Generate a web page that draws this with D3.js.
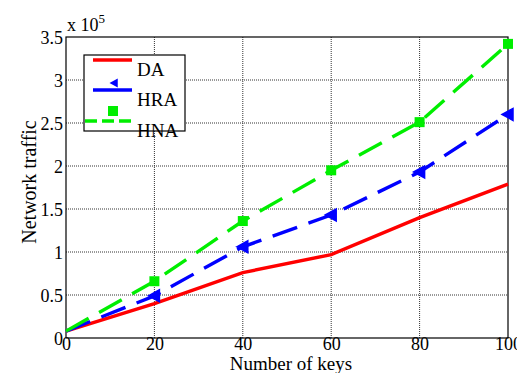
<!DOCTYPE html>
<html>
<head>
<meta charset="utf-8">
<script src="https://cdn.jsdelivr.net/npm/d3@7"></script>
<style>
  body { margin: 0; background: #fff; }
  text { font-family: "Liberation Serif", "Times New Roman", serif; fill: #000; }
</style>
</head>
<body>
<div id="chart-area"></div>
<script>
// Data (network traffic in units of 1e5)
const keys = [0, 20, 40, 60, 80, 100]
const da  = [0.08, 0.40, 0.76, 0.97, 1.40, 1.79]
const hra = [0.08, 0.49, 1.06, 1.43, 1.93, 2.60]
const hna = [0.08, 0.66, 1.36, 1.95, 2.51, 3.42]
const xTicks = [0, 20, 40, 60, 80, 100]
const yTicks = [0, 0.5, 1, 1.5, 2, 2.5, 3, 3.5]

const W = 517, H = 373
const MARGIN = { LEFT: 66, RIGHT: 9, TOP: 37, BOTTOM: 35 }
const WIDTH = W - MARGIN.LEFT - MARGIN.RIGHT
const HEIGHT = H - MARGIN.TOP - MARGIN.BOTTOM

const svg = d3.select('#chart-area').append('svg')
  .attr('width', W)
  .attr('height', H)

const g = svg.append('g')
  .attr('transform', `translate(${MARGIN.LEFT}, ${MARGIN.TOP})`)

const x = d3.scaleLinear().domain([0, 100]).range([0, WIDTH])
const y = d3.scaleLinear().domain([0, 3.5]).range([HEIGHT, 0])

// grid
g.append('g').selectAll('line').data(xTicks.slice(1, -1)).enter().append('line')
  .attr('x1', d => x(d)).attr('x2', d => x(d))
  .attr('y1', 0).attr('y2', HEIGHT)
  .attr('stroke', '#333').attr('stroke-width', 1).attr('stroke-dasharray', '1,1')
g.append('g').selectAll('line').data(yTicks.slice(1, -1)).enter().append('line')
  .attr('x1', 0).attr('x2', WIDTH)
  .attr('y1', d => y(d)).attr('y2', d => y(d))
  .attr('stroke', '#333').attr('stroke-width', 1).attr('stroke-dasharray', '1,1')

// axes
const xAxis = g.append('g')
  .attr('transform', `translate(0, ${HEIGHT})`)
  .call(d3.axisBottom(x).tickValues(xTicks).tickSize(0).tickPadding(0))
const yAxis = g.append('g')
  .call(d3.axisLeft(y).tickValues(yTicks).tickSize(0).tickPadding(3).tickFormat(d3.format('')))
;[xAxis, yAxis].forEach(a => {
  a.select('.domain').remove()
  a.selectAll('text').attr('font-size', '18px').attr('font-family', null)
  a.attr('font-family', null)
})
yAxis.selectAll('text').attr('dy', '0.35em')
xAxis.selectAll('text').attr('dy', '0.66em')

// frame
g.append('rect')
  .attr('width', WIDTH).attr('height', HEIGHT)
  .attr('fill', 'none').attr('stroke', '#000').attr('stroke-width', 1.2)

// series
const series = [
  { name: 'DA', values: da, color: '#ff0000', dash: null, marker: null },
  { name: 'HRA', values: hra, color: '#0000ff', dash: '26,12', marker: 'tri' },
  { name: 'HNA', values: hna, color: '#00ee00', dash: '26,12', marker: 'square' }
]

const line = d3.line().x((d, i) => x(keys[i])).y(d => y(d))

const triPath = 'M-6,0 L5,-6 L5,6 Z'

series.forEach(s => {
  g.append('path')
    .datum(s.values)
    .attr('d', line)
    .attr('fill', 'none')
    .attr('stroke', s.color)
    .attr('stroke-width', 3.4)
    .attr('stroke-dasharray', s.dash)
  const pts = s.values.slice(1)
  if (s.marker === 'square') {
    g.selectAll(null).data(pts).enter().append('rect')
      .attr('x', (d, i) => x(keys[i + 1]) - 5)
      .attr('y', d => y(d) - 5)
      .attr('width', 10).attr('height', 10)
      .attr('fill', s.color)
  } else if (s.marker === 'tri') {
    g.selectAll(null).data(pts).enter().append('path')
      .attr('d', triPath)
      .attr('transform', (d, i) => `translate(${x(keys[i + 1])}, ${y(d)})`)
      .attr('fill', s.color).attr('stroke', s.color).attr('stroke-width', 1.5)
  }
})

// legend
const lg = svg.append('g').attr('transform', 'translate(84, 55)')
lg.append('rect')
  .attr('width', 101).attr('height', 76)
  .attr('fill', '#fff').attr('stroke', '#000').attr('stroke-width', 1.2)
const legendY = [5, 35, 66]
series.forEach((s, i) => {
  const ly = legendY[i]
  lg.append('line')
    .attr('x1', s.marker === 'square' ? 1 : 9).attr('x2', 48).attr('y1', ly).attr('y2', ly)
    .attr('stroke', s.color).attr('stroke-width', 3.4)
    .attr('stroke-dasharray', s.marker === 'square' ? '12,5' : null)
  if (s.marker === 'tri') {
    lg.append('path').attr('d', triPath)
      .attr('transform', `translate(30, ${ly - 7}) scale(0.75)`)
      .attr('fill', s.color)
  } else if (s.marker === 'square') {
    lg.append('rect')
      .attr('x', 24).attr('y', ly - 15).attr('width', 10).attr('height', 10)
      .attr('fill', s.color)
  }
  lg.append('text')
    .attr('x', 53).attr('y', ly + 16)
    .attr('font-size', '19px')
    .text(s.name)
})

// axis labels
svg.append('text')
  .attr('x', 291)
  .attr('y', 370)
  .attr('text-anchor', 'middle')
  .attr('font-size', '19px')
  .text('Number of keys')

svg.append('text')
  .attr('transform', `translate(36, 182) rotate(-90)`)
  .attr('text-anchor', 'middle')
  .attr('font-size', '20px')
  .text('Network traffic')

const ex = svg.append('text')
  .attr('x', 67).attr('y', 31)
  .attr('font-size', '18px')
ex.append('tspan').text('x 10')
ex.append('tspan').attr('dy', -8).attr('font-size', '13px').text('5')
</script>
</body>
</html>
